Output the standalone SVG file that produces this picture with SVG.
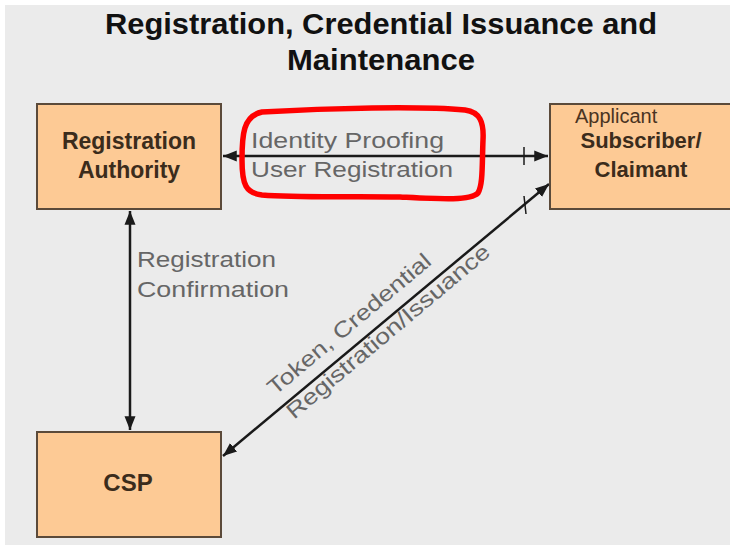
<svg xmlns="http://www.w3.org/2000/svg" width="730" height="550" viewBox="0 0 730 550">
<defs>
<style>
.box{fill:#fdca95;stroke:#5b4a3a;stroke-width:2}
.nt{font-family:"Liberation Sans",Arial,sans-serif;font-weight:bold;fill:#3b2c1c;text-anchor:middle}
.lbl{font-family:"Liberation Sans",Arial,sans-serif;fill:#666666;font-size:22px}
.ln{stroke:#1a1a1a;stroke-width:2.5;fill:none}
</style>
<marker id="ah" viewBox="0 0 10 10" refX="10" refY="5" markerWidth="5.5" markerHeight="5.5" orient="auto-start-reverse" markerUnits="strokeWidth">
<path d="M0,1 L10,5 L0,9 z" fill="#1a1a1a"/>
</marker>
</defs>
<rect x="0" y="0" width="730" height="550" fill="#ffffff"/>
<rect x="5" y="5" width="725" height="540" fill="#ebebeb"/>
<g id="title">
<text x="381" y="34" font-family="'Liberation Sans',Arial,sans-serif" font-weight="bold" font-size="29" fill="#111" text-anchor="middle" textLength="552" lengthAdjust="spacingAndGlyphs">Registration, Credential Issuance and</text>
<text x="381" y="70" font-family="'Liberation Sans',Arial,sans-serif" font-weight="bold" font-size="29" fill="#111" text-anchor="middle" textLength="188" lengthAdjust="spacingAndGlyphs">Maintenance</text>
</g>
<g id="connectors">
<line class="ln" x1="223" y1="156" x2="548" y2="156" marker-start="url(#ah)" marker-end="url(#ah)"/>
<line x1="524" y1="147" x2="524" y2="165" stroke="#1a1a1a" stroke-width="1.5"/>
<line class="ln" x1="130" y1="211" x2="130" y2="430" marker-start="url(#ah)" marker-end="url(#ah)"/>
<line class="ln" x1="223" y1="456" x2="549" y2="184" marker-start="url(#ah)" marker-end="url(#ah)"/>
<line x1="524" y1="196" x2="526" y2="214" stroke="#1a1a1a" stroke-width="1.5"/>
<text class="lbl" x="251" y="148" textLength="193" lengthAdjust="spacingAndGlyphs">Identity Proofing</text>
<text class="lbl" x="251" y="177" textLength="202" lengthAdjust="spacingAndGlyphs">User Registration</text>
<text class="lbl" x="137" y="267" textLength="139" lengthAdjust="spacingAndGlyphs">Registration</text>
<text class="lbl" x="137" y="297" textLength="152" lengthAdjust="spacingAndGlyphs">Confirmation</text>
<text class="lbl" transform="translate(275,396) rotate(-40)" x="0" y="0" textLength="206" lengthAdjust="spacingAndGlyphs">Token, Credential</text>
<text class="lbl" transform="translate(294,420) rotate(-40)" x="0" y="0" textLength="258" lengthAdjust="spacingAndGlyphs">Registration/Issuance</text>
</g>
<g id="registration-authority">
<rect class="box" x="37" y="104" width="184" height="105"/>
<text class="nt" x="129" y="149" font-size="23">Registration</text>
<text class="nt" x="129" y="178" font-size="23">Authority</text>
</g>
<g id="subscriber">
<rect class="box" x="550" y="104" width="186" height="105"/>
<text x="575" y="123" font-family="'Liberation Sans',Arial,sans-serif" font-size="20" fill="#4a3422">Applicant</text>
<text class="nt" x="641" y="148" font-size="22">Subscriber/</text>
<text class="nt" x="641" y="177" font-size="22">Claimant</text>
</g>
<g id="csp">
<rect class="box" x="37" y="432" width="184" height="105"/>
<text class="nt" x="128" y="491" font-size="24">CSP</text>
</g>
<g id="highlight">
<path d="M262,112 C330,108 420,106 465,110 C480,112 484,122 483,140 C482,165 483,185 478,193 C470,201 440,199 400,197 C350,196 300,198 262,195 C246,193 242,185 242,160 C242,135 243,116 262,112 Z" fill="none" stroke="#ff0000" stroke-width="5.5"/>
</g>
</svg>
